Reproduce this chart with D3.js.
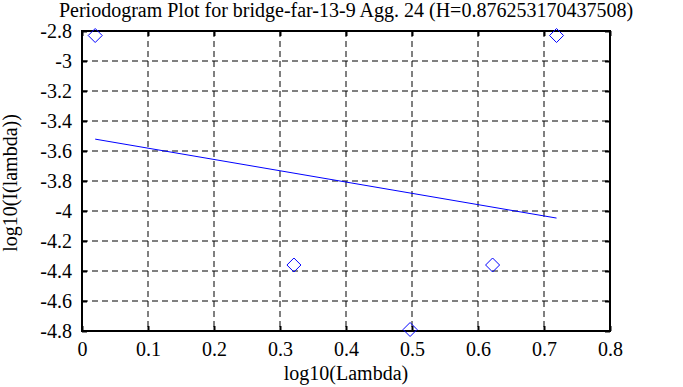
<!DOCTYPE html>
<html><head><meta charset="utf-8">
<script src="https://cdn.jsdelivr.net/npm/d3@7"></script>
<style>body{margin:0;background:#fff}svg{display:block}text{font-family:"Liberation Serif","Times New Roman",serif;fill:#000}</style>
</head><body>
<svg id="c" width="683" height="387"></svg>
<script>
const title = "Periodogram Plot for bridge-far-13-9 Agg. 24 (H=0.876253170437508)";
const xLabel = "log10(Lambda)";
const yLabel = "log10(I(lambda))";
const logLambda = [0.0200, 0.3211, 0.4971, 0.6221, 0.7190];
const logI = [-2.83, -4.36, -4.79, -4.36, -2.83];
const xTicks = [0, 0.1, 0.2, 0.3, 0.4, 0.5, 0.6, 0.7, 0.8];
const yTicks = [-2.8, -3, -3.2, -3.4, -3.6, -3.8, -4, -4.2, -4.4, -4.6, -4.8];

const FONT = '"Liberation Serif","Times New Roman",serif';
const svg = d3.select("#c");
const L = 82, R = 610, T = 31, B = 331;
const x = d3.scaleLinear().domain([0, 0.8]).range([L, R]);
const y = d3.scaleLinear().domain([-4.8, -2.8]).range([B, T]);

// grid
svg.append("g").selectAll("line").data(xTicks.slice(1, -1)).join("line")
  .attr("x1", d => x(d)).attr("x2", d => x(d)).attr("y1", T).attr("y2", B)
  .attr("stroke", "#000").attr("stroke-width", 1).attr("stroke-dasharray", "6,4");
svg.append("g").selectAll("line").data(yTicks.slice(1, -1)).join("line")
  .attr("y1", d => y(d)).attr("y2", d => y(d)).attr("x1", L).attr("x2", R)
  .attr("stroke", "#000").attr("stroke-width", 1).attr("stroke-dasharray", "6,4");

// axes
const fmt = d => String(+d.toFixed(1));
const gx = svg.append("g").attr("transform", `translate(0,${B})`)
  .call(d3.axisBottom(x).tickValues(xTicks).tickSize(-5).tickFormat(fmt));
const gxt = svg.append("g").attr("transform", `translate(0,${T})`)
  .call(d3.axisTop(x).tickValues(xTicks).tickSize(-5).tickFormat(""));
const gy = svg.append("g").attr("transform", `translate(${L},0)`)
  .call(d3.axisLeft(y).tickValues(yTicks).tickSize(-5).tickFormat(fmt));
const gyr = svg.append("g").attr("transform", `translate(${R},0)`)
  .call(d3.axisRight(y).tickValues(yTicks).tickSize(-5).tickFormat(""));
[gx, gxt, gy, gyr].forEach(g => {
  g.attr("font-family", FONT).attr("font-size", 20);
  g.select(".domain").remove();
  g.selectAll(".tick line").attr("stroke", "#000").attr("stroke-width", 2);
  g.selectAll("text").attr("fill", "#000");
});
gx.selectAll(".tick text").attr("y", 25).attr("dy", 0);
gy.selectAll(".tick text").attr("x", -10).attr("dy", "0.33em");

svg.append("rect").attr("x", L).attr("y", T).attr("width", R - L).attr("height", B - T)
  .attr("fill", "none").attr("stroke", "#000").attr("stroke-width", 2);

// regression line
const mx = d3.mean(logLambda), my = d3.mean(logI);
let sxy = 0, sxx = 0;
logLambda.forEach((v, i) => { sxy += (v - mx) * (logI[i] - my); sxx += (v - mx) ** 2; });
const slope = sxy / sxx, icpt = my - slope * mx;
const x0 = d3.min(logLambda), x1 = d3.max(logLambda);
svg.append("line").attr("x1", x(x0)).attr("y1", y(icpt + slope * x0))
  .attr("x2", x(x1)).attr("y2", y(icpt + slope * x1))
  .attr("stroke", "#0000ff").attr("stroke-width", 1);

// points
svg.append("g").selectAll("path").data(logLambda).join("path")
  .attr("d", (d, i) => { const cx = x(d), cy = y(logI[i]), r = 7; return `M${cx},${cy - r}L${cx + r},${cy}L${cx},${cy + r}L${cx - r},${cy}Z`; })
  .attr("fill", "none").attr("stroke", "#0000ff").attr("stroke-width", 1);

// labels
svg.append("text").attr("x", 346).attr("y", 17).attr("text-anchor", "middle").style("font-size", "20px").text(title);
svg.append("text").attr("x", 346).attr("y", 380).attr("text-anchor", "middle").style("font-size", "20px").text(xLabel);
svg.append("text").attr("transform", "translate(17,183) rotate(-90)").attr("text-anchor", "middle").style("font-size", "20px").text(yLabel);
</script>
</body></html>
